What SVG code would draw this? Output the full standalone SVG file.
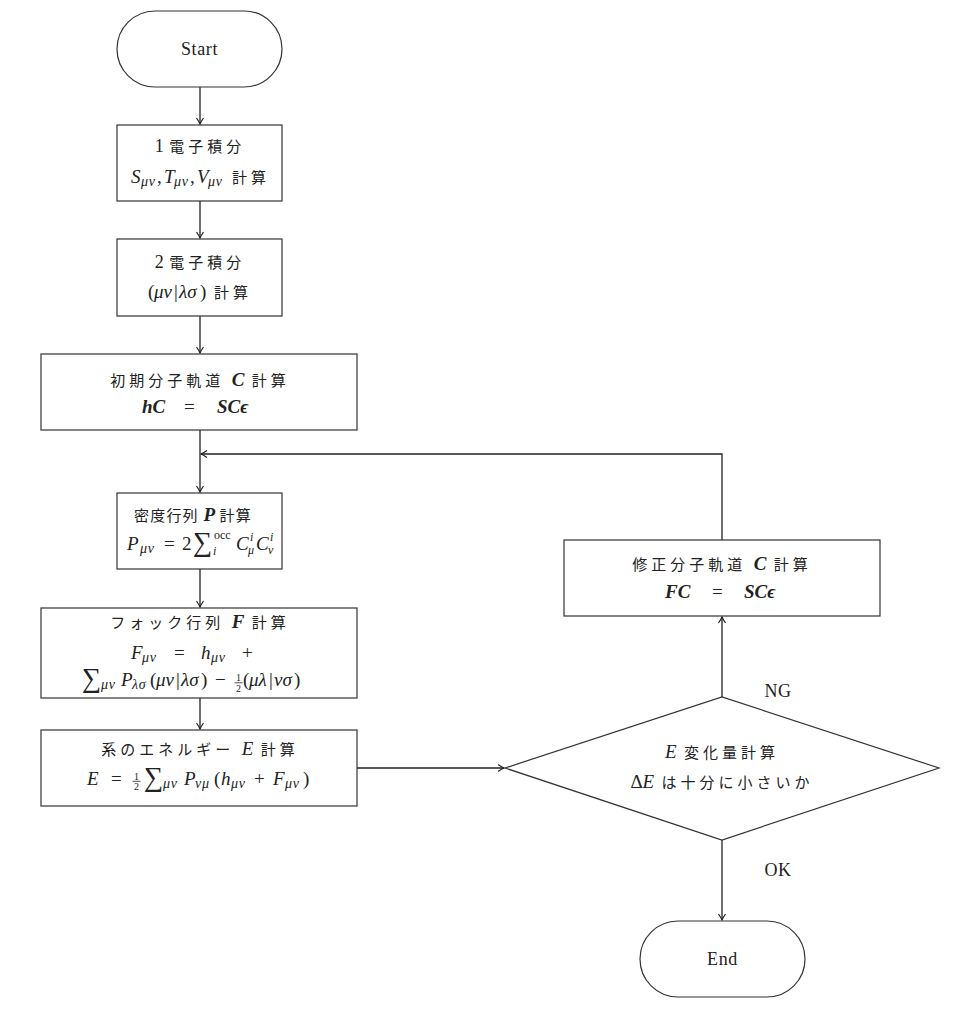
<svg xmlns="http://www.w3.org/2000/svg" width="955" height="1024" viewBox="0 0 955 1024">
<style>
.n{fill:#fff;stroke:#333;stroke-width:1.2}
.c{fill:none;stroke:#222;stroke-width:1.3}
.t{font-family:"Liberation Serif","Noto Sans CJK JP",serif;font-size:19px;fill:#222;text-anchor:middle}
.m{font-family:"Liberation Serif","Noto Sans CJK JP",serif;font-size:19px;fill:#222}
.l{font-size:18px;letter-spacing:0.6px}
.j{font-family:"Noto Sans CJK JP",sans-serif;font-size:15px;letter-spacing:4px}
.j1{letter-spacing:1.2px}
.i{font-style:italic}
.b{font-style:italic;font-weight:bold}
.s{font-size:14px;letter-spacing:0.8px}
.u{font-size:12px}
.f{font-size:10px}
.sum{font-family:"Liberation Serif",serif;font-size:27px}
.fb{stroke:#222;stroke-width:0.8}
</style>
<defs>
<marker id="ah" markerWidth="10" markerHeight="10" refX="9" refY="5" orient="auto" markerUnits="userSpaceOnUse">
<path d="M3,1.5 Q7,4.2 9,5 Q7,5.8 3,8.5" fill="none" stroke="#222" stroke-width="1.2"/>
</marker>
</defs>
<rect width="955" height="1024" fill="#fff"/>
<g id="connectors">
<line class="c" x1="200" y1="87" x2="200" y2="124" marker-end="url(#ah)"/>
<line class="c" x1="200" y1="201" x2="200" y2="238" marker-end="url(#ah)"/>
<line class="c" x1="200" y1="316" x2="200" y2="353" marker-end="url(#ah)"/>
<line class="c" x1="200" y1="430" x2="200" y2="492" marker-end="url(#ah)"/>
<line class="c" x1="200" y1="569" x2="200" y2="607" marker-end="url(#ah)"/>
<line class="c" x1="200" y1="698" x2="200" y2="729" marker-end="url(#ah)"/>
<line class="c" x1="357" y1="768" x2="504" y2="768" marker-end="url(#ah)"/>
<line class="c" x1="722" y1="840" x2="722" y2="920" marker-end="url(#ah)"/>
<line class="c" x1="722" y1="697" x2="722" y2="617" marker-end="url(#ah)"/>
<polyline class="c" points="722,540 722,454 201,454" marker-end="url(#ah)"/>
</g>
<g id="start">
<rect class="n" x="117" y="11" width="165" height="76" rx="38" ry="38"/>
<text class="t l" x="199.5" y="55">Start</text>
</g>
<g id="one-electron">
<rect class="n" x="117" y="125" width="165" height="76"/>
<text class="t" x="200" y="152"><tspan class="l">1 </tspan><tspan class="j">電子積分</tspan></text>
<text class="m"><tspan class="i" x="131" y="183">S</tspan><tspan class="i s" x="141" y="186">μν</tspan><tspan x="157" y="183">,</tspan><tspan class="i" x="164" y="183">T</tspan><tspan class="i s" x="174" y="186">μν</tspan><tspan x="190" y="183">,</tspan><tspan class="i" x="197" y="183">V</tspan><tspan class="i s" x="208" y="186">μν</tspan><tspan class="j" x="232" y="183">計算</tspan></text>
</g>
<g id="two-electron">
<rect class="n" x="117" y="239" width="165" height="77"/>
<text class="t" x="200" y="268"><tspan class="l">2 </tspan><tspan class="j">電子積分</tspan></text>
<text class="m"><tspan x="148" y="298">(</tspan><tspan class="i" x="154" y="298">μν</tspan><tspan x="174" y="298">|</tspan><tspan class="i" x="179" y="298">λσ</tspan><tspan x="200" y="298">)</tspan><tspan class="j" x="214" y="298">計算</tspan></text>
</g>
<g id="initial-mo">
<rect class="n" x="41" y="354" width="316" height="76"/>
<text class="t" x="200" y="386"><tspan class="j">初期分子軌道 </tspan><tspan class="b">C</tspan><tspan class="j">  計算</tspan></text>
<text class="m"><tspan class="b" x="142" y="413">hC</tspan><tspan x="184" y="413">=</tspan><tspan class="b" x="217" y="413">SCϵ</tspan></text>
</g>
<g id="density">
<rect class="n" x="117" y="493" width="165" height="76"/>
<text class="t" x="193" y="521"><tspan class="j j1">密度行列 </tspan><tspan class="b">P</tspan><tspan class="j j1"> 計算</tspan></text>
<text class="m"><tspan class="i" x="127" y="550">P</tspan><tspan class="i s" x="140" y="553">μν</tspan><tspan x="164" y="550">=</tspan><tspan x="182" y="550">2</tspan><tspan class="sum" x="193" y="551">∑</tspan><tspan class="u" x="214" y="539">occ</tspan><tspan class="i u" x="213" y="555">i</tspan><tspan class="i" x="236" y="550">C</tspan><tspan class="i u" x="250" y="541">i</tspan><tspan class="i u" x="248" y="554">μ</tspan><tspan class="i" x="256" y="550">C</tspan><tspan class="i u" x="270" y="541">i</tspan><tspan class="i u" x="268" y="554">ν</tspan></text>
</g>
<g id="fock">
<rect class="n" x="41" y="608" width="316" height="90"/>
<text class="t" x="200" y="628"><tspan class="j">フォック行列 </tspan><tspan class="b">F</tspan><tspan class="j">  計算</tspan></text>
<text class="m"><tspan class="i" x="131" y="659">F</tspan><tspan class="i s" x="142" y="662">μν</tspan><tspan x="174" y="659">=</tspan><tspan class="i" x="201" y="659">h</tspan><tspan class="i s" x="211" y="662">μν</tspan><tspan x="242" y="659">+</tspan></text>
<text class="m"><tspan class="sum" x="82" y="687">∑</tspan><tspan class="i s" x="101" y="689">μν</tspan><tspan class="i" x="121" y="686">P</tspan><tspan class="i s" x="132" y="689">λσ</tspan><tspan x="150" y="686">(</tspan><tspan class="i" x="156" y="686">μν</tspan><tspan x="176" y="686">|</tspan><tspan class="i" x="181" y="686">λσ</tspan><tspan x="201" y="686">)</tspan><tspan x="215" y="686">−</tspan><tspan class="f" x="236" y="681">1</tspan><tspan class="f" x="236" y="691.5">2</tspan><tspan x="243" y="686">(</tspan><tspan class="i" x="249" y="686">μλ</tspan><tspan x="269" y="686">|</tspan><tspan class="i" x="274" y="686">νσ</tspan><tspan x="294" y="686">)</tspan></text>
<line class="fb" x1="234.5" y1="682.8" x2="242.5" y2="682.8"/>
</g>
<g id="energy">
<rect class="n" x="41" y="730" width="316" height="76"/>
<text class="t" x="200" y="755"><tspan class="j">系のエネルギー </tspan><tspan class="i">E</tspan><tspan class="j">  計算</tspan></text>
<text class="m"><tspan class="i" x="87" y="785">E</tspan><tspan x="111" y="785">=</tspan><tspan class="f" x="134" y="779.5">1</tspan><tspan class="f" x="134" y="790">2</tspan><tspan class="sum" x="144" y="786">∑</tspan><tspan class="i s" x="163" y="788">μν</tspan><tspan class="i" x="184" y="785">P</tspan><tspan class="i s" x="195" y="788">νμ</tspan><tspan x="214" y="785">(</tspan><tspan class="i" x="221" y="785">h</tspan><tspan class="i s" x="231" y="788">μν</tspan><tspan x="254" y="785">+</tspan><tspan class="i" x="273" y="785">F</tspan><tspan class="i s" x="285" y="788">μν</tspan><tspan x="303" y="785">)</tspan></text>
<line class="fb" x1="132.5" y1="781.3" x2="140.5" y2="781.3"/>
</g>
<g id="check">
<polygon class="n" points="505,768 722,697 939,768 722,840"/>
<text class="t" x="722" y="758"><tspan class="i">E</tspan><tspan class="j"> 変化量計算</tspan></text>
<text class="t" x="722" y="788">Δ<tspan class="i">E</tspan><tspan class="j"> は十分に小さいか</tspan></text>
</g>
<g id="update-mo">
<rect class="n" x="564" y="540" width="316" height="76"/>
<text class="t" x="722" y="570"><tspan class="j">修正分子軌道 </tspan><tspan class="b">C</tspan><tspan class="j">  計算</tspan></text>
<text class="m"><tspan class="b" x="665" y="598">FC</tspan><tspan x="712" y="598">=</tspan><tspan class="b" x="744" y="598">SCϵ</tspan></text>
</g>
<g id="end">
<rect class="n" x="640" y="921" width="165" height="76" rx="38" ry="38"/>
<text class="t l" x="722.5" y="965">End</text>
</g>
<g id="labels">
<text class="t l" x="778" y="697">NG</text>
<text class="t l" x="778" y="876">OK</text>
</g>
</svg>
